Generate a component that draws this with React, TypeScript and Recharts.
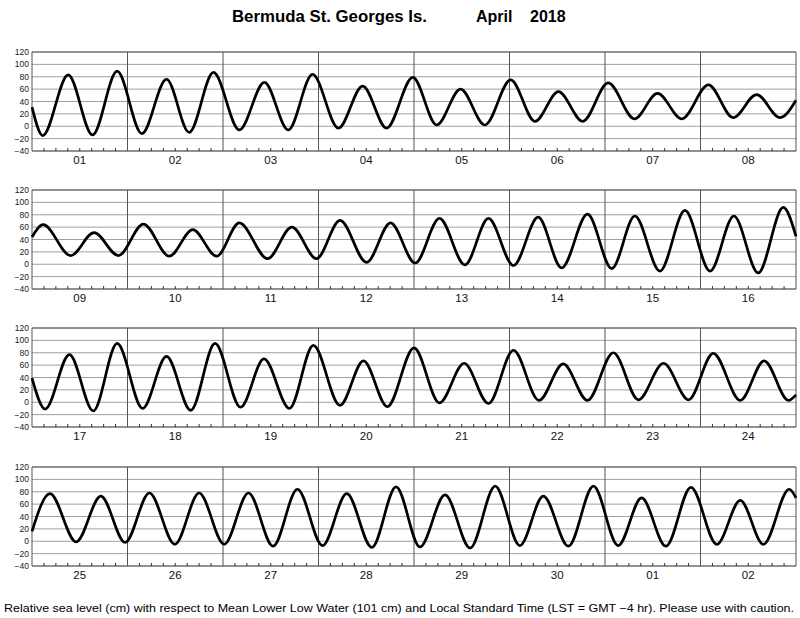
import React from "react";
import { LineChart, Line, XAxis, YAxis, CartesianGrid, ReferenceLine } from "recharts";

// Tide extremes: [hours since panel start, level in cm]
const panel1Tide: [number, number][] = [
  [0, 31], [2.7, -15], [9.1, 83], [15.2, -14], [21.4, 89], [27.6, -12], [33.8, 76], [39.5, -10],
  [45.6, 87], [52.1, -6], [58.4, 71], [64.4, -6], [70.5, 84], [77, -3], [83.1, 65], [89.1, -3],
  [95.7, 79], [101.7, 2], [107.7, 60], [113.8, 2], [120.3, 75], [126.4, 8], [132.3, 56], [138.4, 8],
  [144.8, 70], [151.4, 12], [157.2, 53], [163.3, 12], [170, 67], [176.2, 14], [182.1, 51], [188, 14],
  [192, 42],
];
const panel2Tide: [number, number][] = [
  [0, 44], [2.8, 64], [9.7, 14], [15.6, 51], [21.7, 14], [28, 65], [34.5, 13], [40.4, 56],
  [46.4, 13], [52.1, 67], [59.2, 9], [65.3, 60], [71.5, 9], [77.4, 71], [84.1, 3], [90.1, 67],
  [96.3, 2], [102.4, 74], [108.8, -1], [114.7, 74], [121, -2], [127.2, 76], [133.1, -6], [139.6, 81],
  [145.7, -7], [151.5, 78], [157.8, -11], [164.1, 87], [170.4, -11], [176.4, 78], [182.5, -14], [188.8, 92],
  [192, 45],
];
const panel3Tide: [number, number][] = [
  [0, 39], [3.3, -11], [9.4, 77], [15.4, -14], [21.4, 95], [27.8, -10], [33.8, 74], [39.9, -13],
  [46, 95], [52.4, -8], [58.3, 70], [64.7, -10], [70.7, 92], [77.4, -5], [83.3, 67], [89.3, -7],
  [96, 88], [102.4, -1], [108.6, 63], [114.7, -2], [121, 84], [127.4, 3], [133.5, 62], [139.6, 3],
  [146.1, 80], [152.4, 4], [158.7, 63], [165, 4], [171.2, 79], [178, 3], [184, 67], [190.1, 3],
  [192, 12],
];
const panel4Tide: [number, number][] = [
  [0, 16], [4.5, 77], [11.1, -1], [17.3, 73], [23.4, -2], [29.5, 78], [35.9, -5], [42, 78],
  [48.3, -5], [54.4, 78], [60.6, -8], [66.7, 84], [73, -7], [79.1, 77], [85.4, -10], [91.5, 88],
  [97.5, -9], [103.8, 75], [110.1, -11], [116.4, 89], [122.6, -7], [128.5, 73], [134.8, -8], [141.1, 89],
  [147.3, -7], [153.2, 70], [159.3, -8], [165.6, 87], [172.1, -5], [178, 66], [183.8, -5], [190.3, 84],
  [192, 70],
];

const panel1Days = ["01", "02", "03", "04", "05", "06", "07", "08"];
const panel2Days = ["09", "10", "11", "12", "13", "14", "15", "16"];
const panel3Days = ["17", "18", "19", "20", "21", "22", "23", "24"];
const panel4Days = ["25", "26", "27", "28", "29", "30", "01", "02"];

const levelTicks = [-40, -20, 0, 20, 40, 60, 80, 100, 120];
const dayEdges = [0, 24, 48, 72, 96, 120, 144, 168, 192];
const hourTicks = [3, 6, 9, 12, 15, 18, 21, 27, 30, 33, 36, 39, 42, 45, 51, 54, 57, 60, 63, 66, 69,
  75, 78, 81, 84, 87, 90, 93, 99, 102, 105, 108, 111, 114, 117, 123, 126, 129, 132, 135, 138, 141,
  147, 150, 153, 156, 159, 162, 165, 171, 174, 177, 180, 183, 186, 189];

const FONT = "'Liberation Sans', Arial, Helvetica, sans-serif";

function HourTick(props: any) {
  const { x, y, payload, days } = props;
  const v = payload.value as number;
  const isNoon = v % 24 === 12;
  return (
    <g>
      <line x1={x} x2={x} y1={y} y2={y - 3} stroke="#333" strokeWidth={1} />
      {isNoon && (
        <text x={x} y={y + 13} textAnchor="middle" fontSize={11.5} fontFamily={FONT} fill="#111">
          {days[Math.floor(v / 24)]}
        </text>
      )}
    </g>
  );
}

function TidePanel({ top, tide, days }: { top: number; tide: [number, number][]; days: string[] }) {
  const data = tide.map(([hour, level]) => ({ hour, level }));
  return (
    <div style={{ position: "absolute", left: 0, top: top - 5 }}>
      <LineChart width={800} height={124} data={data} margin={{ top: 5, right: 4, bottom: 0, left: 0 }}>
        <CartesianGrid vertical={false} stroke="#a0a0a0" strokeWidth={1} />
        <XAxis
          type="number"
          dataKey="hour"
          domain={[0, 192]}
          ticks={hourTicks}
          interval={0}
          height={20}
          axisLine={false}
          tickLine={false}
          tickSize={0}
          tickMargin={0}
          tick={<HourTick days={days} />}
        />
        <YAxis
          type="number"
          domain={[-40, 120]}
          ticks={levelTicks}
          interval={0}
          width={32}
          axisLine={false}
          tickLine={false}
          tickSize={0}
          tickMargin={3}
          tick={{ fontSize: 8.5, fill: "#222", fontFamily: FONT }}
          tickFormatter={(v: number) => String(v).replace("-", "\u2212")}
        />
        <ReferenceLine y={120} stroke="#555" />
        <ReferenceLine y={-40} stroke="#555" />
        {dayEdges.map((d) => (
          <ReferenceLine key={d} x={d} stroke="#555" />
        ))}
        <Line
          type="monotone"
          dataKey="level"
          stroke="#000"
          strokeWidth={2.7}
          dot={false}
          isAnimationActive={false}
        />
      </LineChart>
    </div>
  );
}

export default function App() {
  return (
    <div style={{ position: "absolute", left: 0, top: 0, width: 800, height: 618, background: "#fff" }}>
      <svg width={800} height={618} style={{ position: "absolute", left: 0, top: 0 }}>
        <text x={232} y={22} fontSize={16} fontWeight="bold" fontFamily={FONT} textLength={195} lengthAdjust="spacingAndGlyphs">
          Bermuda St. Georges Is.
        </text>
        <text x={476} y={22} fontSize={16} fontWeight="bold" fontFamily={FONT}>April</text>
        <text x={530} y={22} fontSize={16} fontWeight="bold" fontFamily={FONT}>2018</text>
        <text x={4} y={612} fontSize={11.5} fontFamily={FONT} textLength={790} lengthAdjust="spacingAndGlyphs">
          Relative sea level (cm) with respect to Mean Lower Low Water (101 cm) and Local Standard Time (LST = GMT {"\u2212"}4 hr). Please use with caution.
        </text>
      </svg>
      <TidePanel top={52} tide={panel1Tide} days={panel1Days} />
      <TidePanel top={190} tide={panel2Tide} days={panel2Days} />
      <TidePanel top={328} tide={panel3Tide} days={panel3Days} />
      <TidePanel top={467} tide={panel4Tide} days={panel4Days} />
    </div>
  );
}
